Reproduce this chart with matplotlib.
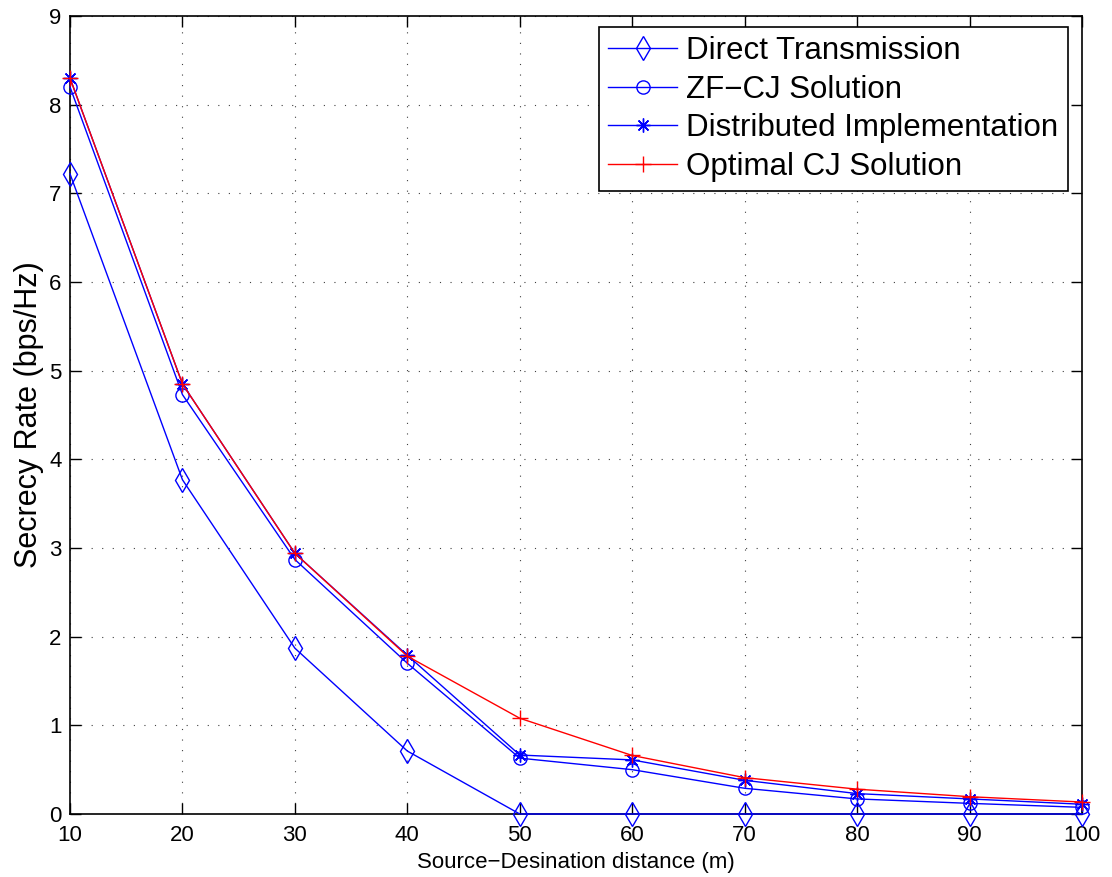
import matplotlib
matplotlib.use("Agg")
import matplotlib.pyplot as plt

plt.rcParams['font.family'] = ['Liberation Sans', 'DejaVu Sans']

# distanza sorgente-destinazione
distance = [10, 20, 30, 40, 50, 60, 70, 80, 90, 100]

direct = [7.22, 3.77, 1.87, 0.71, 0.0, 0.0, 0.0, 0.0, 0.0, 0.0]
zf_cj = [8.20, 4.73, 2.87, 1.70, 0.63, 0.50, 0.29, 0.17, 0.12, 0.075]
distributed = [8.30, 4.85, 2.94, 1.79, 0.665, 0.61, 0.38, 0.23, 0.17, 0.11]
optimal = [8.30, 4.85, 2.94, 1.78, 1.08, 0.66, 0.41, 0.28, 0.195, 0.135]

labels = ["Direct Transmission", "ZF\u2212CJ Solution",
          "Distributed Implementation", "Optimal CJ Solution"]

fig = plt.figure(figsize=(11.12, 8.77), dpi=100)
ax = fig.add_axes([70 / 1112, 1 - 814 / 877, 1012 / 1112, 798 / 877])

asterisk = (8, 2, 0)
ax.plot(distance, direct, color='blue', lw=1, marker='d', ms=12,
        mfc='none', mew=1, label=labels[0], clip_on=False, zorder=3)
ax.plot(distance, zf_cj, color='blue', lw=1, marker='o', ms=9.5,
        mfc='none', mew=1, label=labels[1], clip_on=False, zorder=3)
ax.plot(distance, distributed, color='blue', lw=1, marker=asterisk, ms=10,
        mew=1, label=labels[2], clip_on=False, zorder=3)
ax.plot(distance, optimal, color='red', lw=1, marker='+', ms=11,
        mew=1, label=labels[3], clip_on=False, zorder=3)

ax.set_xlim(10, 100)
ax.set_ylim(0, 9)
ax.set_xticks(distance)
ax.set_yticks(range(0, 10))
ax.grid(True, color='#404040', linestyle=(0, (1, 8.5)), lw=0.8)
ax.tick_params(direction='in', labelsize=16, length=8, width=1,
               top=True, right=True)
ax.tick_params(axis='y', pad=6)
ax.tick_params(axis='x', pad=8)
for s in ax.spines.values():
    s.set_linewidth(1.2)

ax.set_xlabel("Source\u2212Desination distance (m)", fontsize=16, labelpad=4)
ax.set_ylabel("Secrecy Rate (bps/Hz)", fontsize=22, labelpad=4)

leg = ax.legend(loc='upper right', bbox_to_anchor=(1068 / 1112, 1 - 27 / 877),
                bbox_transform=fig.transFigure, borderaxespad=0,
                fontsize=22.5, fancybox=False, framealpha=1, edgecolor='black',
                handlelength=2.2, labelspacing=0.27, borderpad=0.3,
                handletextpad=0.3)
leg.get_frame().set_linewidth(1.2)

fig.savefig("out.png", dpi=100)
